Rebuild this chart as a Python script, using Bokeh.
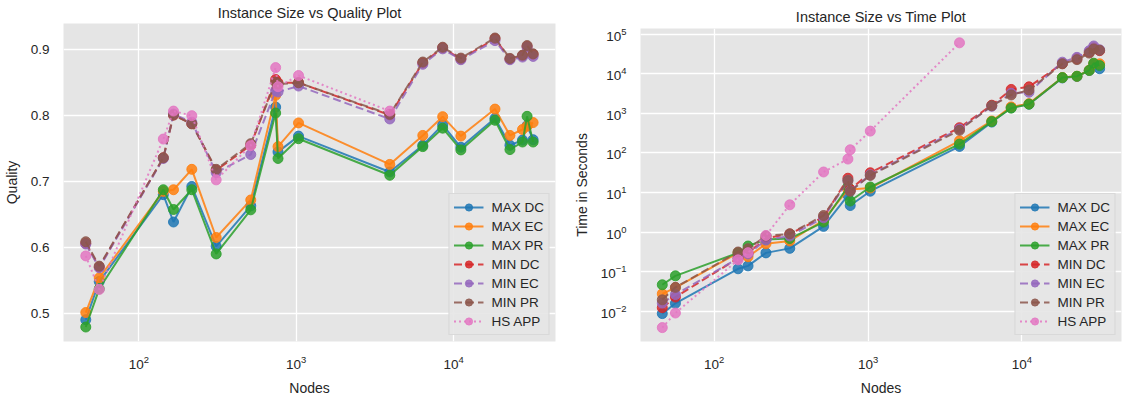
from bokeh.plotting import figure
from bokeh.layouts import row, column
from bokeh.models import Range1d, FixedTicker, LogTickFormatter, Legend
from bokeh.embed import file_html
from bokeh.resources import INLINE

# ---------------- data ----------------
nodes = [46, 56, 143, 166, 217, 310, 514, 740, 766, 1034, 3930, 6370, 8520,
         11120, 18320, 22800, 27400, 29300, 32000]
hs_nodes = nodes[:11]

series_names = ["MAX DC", "MAX EC", "MAX PR", "MIN DC", "MIN EC", "MIN PR", "HS APP"]

q_max_dc = [0.490, 0.548, 0.680, 0.6385, 0.6925, 0.6015, 0.663, 0.813, 0.745, 0.769, 0.7145,
            0.755, 0.786, 0.752, 0.796, 0.755, 0.763, 0.785, 0.7635]
q_max_ec = [0.501, 0.5535, 0.685, 0.6875, 0.7185, 0.615, 0.672, 0.831, 0.753, 0.789, 0.726,
            0.770, 0.7985, 0.769, 0.810, 0.770, 0.779, 0.784, 0.7895]
q_max_pr = [0.479, 0.537, 0.6875, 0.6575, 0.6875, 0.590, 0.657, 0.804, 0.735, 0.765, 0.7095,
            0.753, 0.781, 0.748, 0.793, 0.7485, 0.760, 0.799, 0.760]
q_min_dc = [0.606, 0.570, 0.736, 0.801, 0.788, 0.717, 0.755, 0.855, 0.850, 0.850, 0.801,
            0.880, 0.903, 0.886, 0.917, 0.886, 0.891, 0.905, 0.893]
q_min_ec = [0.605, 0.569, 0.735, 0.8025, 0.790, 0.7135, 0.741, 0.838, 0.836, 0.845, 0.795,
            0.878, 0.9015, 0.885, 0.914, 0.885, 0.889, 0.904, 0.890]
q_min_pr = [0.6085, 0.5715, 0.736, 0.801, 0.7875, 0.7185, 0.7575, 0.851, 0.848, 0.850, 0.802,
            0.8815, 0.904, 0.8875, 0.918, 0.887, 0.892, 0.9065, 0.894]
q_hs_app = [0.587, 0.536, 0.7645, 0.807, 0.800, 0.7025, 0.7545, 0.873, 0.844, 0.861, 0.807]

t_max_dc = [0.0088, 0.016, 0.119, 0.141, 0.30, 0.39, 1.4, 8.5, 4.7, 10.8, 146,
            600, 1400, 1700, 7800, 8500, 12000, 17000, 13300]
t_max_ec = [0.0277, 0.040, 0.30, 0.24, 0.51, 0.60, 2.0, 12, 12, 13, 202,
            640, 1450, 1750, 8000, 8600, 12200, 18000, 17700]
t_max_pr = [0.047, 0.079, 0.30, 0.447, 0.65, 0.69, 1.8, 14, 6.1, 13.8, 167,
            617, 1350, 1700, 7950, 8600, 12100, 18400, 16000]
t_min_dc = [0.0124, 0.023, 0.22, 0.30, 0.70, 0.90, 2.4, 23, 12, 31.6, 433,
            1600, 4000, 4650, 18000, 24000, 35000, 45000, 38000]
t_min_ec = [0.0162, 0.0266, 0.22, 0.28, 0.63, 0.80, 2.3, 20, 11, 28, 400,
            1500, 3200, 3400, 19500, 25800, 38000, 50000, 40000]
t_min_pr = [0.0196, 0.0405, 0.316, 0.383, 0.80, 0.91, 2.63, 20, 10.8, 27, 372,
            1550, 2900, 3850, 17700, 22600, 33000, 42000, 39000]
t_hs_app = [0.0039, 0.0091, 0.20, 0.304, 0.826, 4.9, 33, 70, 120, 355, 60000]

quality = [q_max_dc, q_max_ec, q_max_pr, q_min_dc, q_min_ec, q_min_pr, q_hs_app]
times = [t_max_dc, t_max_ec, t_max_pr, t_min_dc, t_min_ec, t_min_pr, t_hs_app]

colors = ["#1f77b4", "#ff7f0e", "#2ca02c", "#d62728", "#9467bd", "#8c564b", "#e377c2"]
dashes = ["solid", "solid", "solid", "8 4", "8 4", "8 4", "2 3"]

x_ticks = [100, 1000, 10000]
q_ticks = [0.5, 0.6, 0.7, 0.8, 0.9]
t_ticks = [1e-2, 1e-1, 1e0, 1e1, 1e2, 1e3, 1e4, 1e5]

FONT = "Liberation Sans"
TXT = "#262626"
BG = "#E5E5E5"


def style(p, xlabel, ylabel, title_standoff):
    p.background_fill_color = BG
    p.border_fill_color = "white"
    p.outline_line_color = None
    p.grid.grid_line_color = "white"
    p.grid.grid_line_width = 1.3
    p.title.align = "center"
    p.title.text_font = FONT
    p.title.text_font_size = "14.5px"
    p.title.text_font_style = "normal"
    p.title.text_color = TXT
    p.title.standoff = title_standoff
    for ax in (p.xaxis, p.yaxis):
        ax.axis_line_color = None
        ax.major_tick_line_color = None
        ax.minor_tick_line_color = None
        ax.major_label_text_font = FONT
        ax.major_label_text_font_size = "13.5px"
        ax.major_label_text_color = TXT
        ax.axis_label_text_font = FONT
        ax.axis_label_text_font_size = "14px"
        ax.axis_label_text_font_style = "normal"
        ax.axis_label_text_color = TXT
        ax.major_label_standoff = 8
        ax.axis_label_standoff = 8
    p.xaxis.axis_label = xlabel
    p.yaxis.axis_label = ylabel
    p.xaxis.ticker = FixedTicker(ticks=x_ticks)
    p.xaxis.formatter = LogTickFormatter()


def add_series(p, ys_list):
    items = []
    for i, name in enumerate(series_names):
        xs = nodes if i < 6 else hs_nodes
        ys = ys_list[i]
        r1 = p.line(xs, ys, line_color=colors[i], line_width=2, line_dash=dashes[i], line_alpha=0.85)
        r2 = p.scatter(xs, ys, size=10, fill_color=colors[i], line_color=colors[i],
                       fill_alpha=0.85, line_alpha=0.85)
        items.append((name, [r1, r2]))
    legend = Legend(items=items, location="bottom_right")
    legend.label_text_font = FONT
    legend.label_text_font_size = "13.5px"
    legend.label_text_color = TXT
    legend.label_height = 18
    legend.glyph_height = 18
    legend.glyph_width = 30
    legend.label_standoff = 8
    legend.spacing = 1
    legend.padding = 4
    legend.margin = 6
    legend.background_fill_color = BG
    legend.background_fill_alpha = 0.9
    legend.border_line_color = "#cccccc"
    p.add_layout(legend)


p1 = figure(width=560, height=398, x_axis_type="log",
            x_range=Range1d(33.2, 44400), y_range=Range1d(0.457, 0.940),
            title="Instance Size vs Quality Plot",
            output_backend="svg", toolbar_location=None,
            min_border_left=59, min_border_right=5, min_border_top=5, min_border_bottom=55)
style(p1, "Nodes", "Quality", 5)
p1.yaxis.ticker = FixedTicker(ticks=q_ticks)
add_series(p1, quality)

p2 = figure(width=564, height=398, x_axis_type="log", y_axis_type="log",
            x_range=Range1d(33.2, 44400), y_range=Range1d(0.00174, 138000),
            title="Instance Size vs Time Plot",
            output_backend="svg", toolbar_location=None,
            min_border_left=80, min_border_right=3, min_border_top=28, min_border_bottom=54)
style(p2, "Nodes", "Time in Seconds", 8)
p2.yaxis.ticker = FixedTicker(ticks=t_ticks)
p2.yaxis.formatter = LogTickFormatter()
add_series(p2, times)

layout = row(column(p1), column(p2))
open("out.html", "w").write(file_html(layout, INLINE))
